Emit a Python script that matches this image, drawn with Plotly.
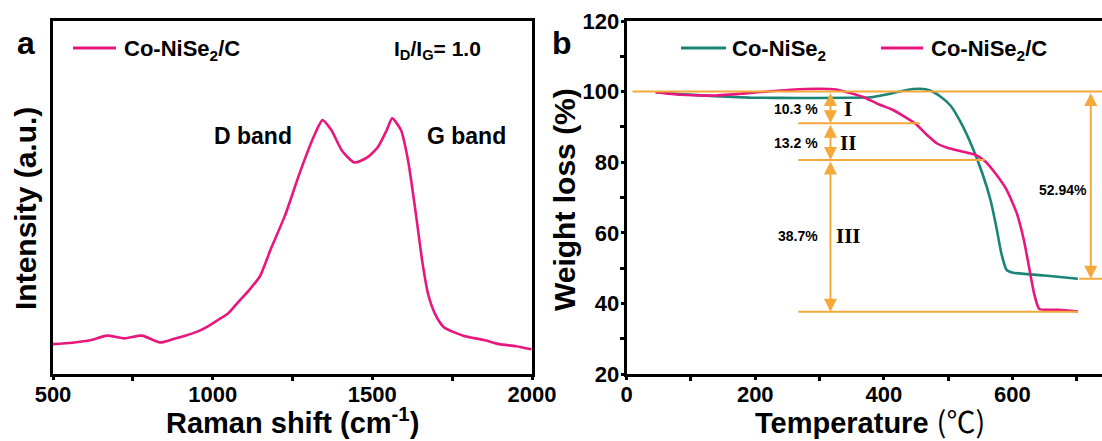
import plotly.graph_objects as go

# ---------------- data ----------------
raman_shift = [500, 560, 620, 668, 724, 779, 835, 880, 914, 950, 981, 1015, 1048, 1080, 1115,
               1148, 1182, 1227, 1271, 1316, 1344, 1372, 1405, 1444, 1484, 1517, 1545, 1562,
               1590, 1612, 1634, 1657, 1674, 1696, 1724, 1785, 1850, 1897, 1950, 1998]
raman_int = [88, 92, 100, 113, 105, 113, 93, 104, 113, 124, 138, 158, 178, 212, 248,
             288, 368, 468, 588, 698, 748, 718, 658, 623, 638, 668, 718, 753,
             718, 628, 488, 328, 238, 178, 138, 113, 100, 88, 82, 73]

temp_a = [45, 83, 137, 191, 272, 380, 396, 412, 434, 456, 472, 488, 504, 520, 537, 553,
          566, 575, 583, 591, 601, 650, 702]
wt_a = [99.8, 99.3, 98.7, 98.3, 98.2, 98.4, 98.9, 99.5, 100.4, 100.8, 100.3, 98.6, 96.0,
        91.2, 84.6, 77.0, 69.3, 61.7, 54.1, 49.5, 48.7, 47.9, 47.0]

temp_b = [45, 83, 137, 191, 245, 299, 326, 348, 369, 391, 412, 434, 450, 466, 483, 499,
          520, 542, 558, 575, 591, 607, 618, 626, 634, 642, 672, 702]
wt_b = [99.8, 99.1, 98.9, 99.6, 100.4, 100.8, 100.6, 99.6, 98.4, 96.5, 95.0, 92.7, 90.8,
        87.9, 85.3, 84.1, 83.1, 82.1, 80.2, 76.5, 72.2, 65.5, 57.9, 50.3, 42.7, 38.4, 38.2, 37.7]

# step levels (weight %) and their temperature extents
level_y = [100.0, 91.0, 80.6, 37.6, 47.0]
level_x0 = [9, 267, 267, 267, 704]
level_x1 = [760, 456, 557, 702, 760]
arrow_x = 317
arrow_x_total = 722
step_labels = ["10.3 %", "13.2 %", "38.7%"]
step_label_y = [95.2, 85.5, 59.0]
step_roman = ["I", "II", "III"]
total_label = "52.94%"
total_label_y = 72.2

PINK = "#E8177D"
GREEN = "#1A8576"
ORANGE = "#F5A93A"
FONT = "Arial"

# figure geometry (pixels)
W, H = 1102, 441
ML, MR, MT, MB = 53, 0, 21, 67
PW, PH = W - ML - MR, H - MT - MB


def px_x(px):
    return (px - ML) / PW


def px_y(py):
    return 1 - (py - MT) / PH


fig = go.Figure()

fig.add_trace(go.Scatter(x=raman_shift, y=raman_int, mode="lines",
                         line=dict(color=PINK, width=2.6, shape="spline", smoothing=0.6),
                         name="Co-NiSe2/C", xaxis="x", yaxis="y", showlegend=False))
fig.add_trace(go.Scatter(x=temp_a, y=wt_a, mode="lines",
                         line=dict(color=GREEN, width=2.6, shape="spline", smoothing=0.5),
                         name="Co-NiSe2", xaxis="x2", yaxis="y2", showlegend=False))
fig.add_trace(go.Scatter(x=temp_b, y=wt_b, mode="lines",
                         line=dict(color=PINK, width=2.6, shape="spline", smoothing=0.5),
                         name="Co-NiSe2/C", xaxis="x2", yaxis="y2", showlegend=False))

shapes = []
for yv, x0, x1 in zip(level_y, level_x0, level_x1):
    shapes.append(dict(type="line", xref="x2", yref="y2", x0=x0, x1=x1, y0=yv, y1=yv,
                       line=dict(color=ORANGE, width=2)))

# legend samples
legend_items = [
    (73, 116, 122, PINK, "Co-NiSe<sub>2</sub>/C"),
    (681, 726, 730, GREEN, "Co-NiSe<sub>2</sub>"),
    (881, 923, 929, PINK, "Co-NiSe<sub>2</sub>/C"),
]
LEG_Y = 48
annotations = []
for x0, x1, xt, col, txt in legend_items:
    shapes.append(dict(type="line", xref="paper", yref="paper", x0=px_x(x0), x1=px_x(x1),
                       y0=px_y(LEG_Y), y1=px_y(LEG_Y), line=dict(color=col, width=3)))
    annotations.append(dict(xref="paper", yref="paper", x=px_x(xt), y=px_y(LEG_Y + 2),
                            xanchor="left", yanchor="middle", text="<b>%s</b>" % txt,
                            showarrow=False, font=dict(family=FONT, size=22, color="black")))

seg = [(level_y[0], level_y[1]), (level_y[1], level_y[2]), (level_y[2], level_y[3])]
for (ya, yb) in seg:
    annotations.append(dict(xref="x2", yref="y2", axref="x2", ayref="y2", x=arrow_x, y=yb,
                            ax=arrow_x, ay=ya, text="", showarrow=True, arrowhead=2,
                            arrowside="end+start", arrowsize=1.3, arrowwidth=2,
                            arrowcolor=ORANGE, standoff=0, startstandoff=0))
annotations.append(dict(xref="x2", yref="y2", axref="x2", ayref="y2", x=arrow_x_total,
                        y=level_y[4], ax=arrow_x_total, ay=level_y[0], text="", showarrow=True,
                        arrowhead=2, arrowside="end+start", arrowsize=1.3, arrowwidth=2,
                        arrowcolor=ORANGE, standoff=0, startstandoff=0))
for lab, rom, ly in zip(step_labels, step_roman, step_label_y):
    annotations.append(dict(xref="x2", yref="y2", x=301, y=ly, text="<b>%s</b>" % lab,
                            showarrow=False, xanchor="right", yanchor="middle",
                            font=dict(family=FONT, size=14, color="black")))
    annotations.append(dict(xref="x2", yref="y2", x=345, y=ly, text="<b>%s</b>" % rom,
                            showarrow=False, xanchor="center", yanchor="middle",
                            font=dict(family="Liberation Serif", size=21, color="black")))
annotations.append(dict(xref="x2", yref="y2", x=679, y=total_label_y, text="<b>%s</b>" % total_label,
                        showarrow=False, xanchor="center", yanchor="middle",
                        font=dict(family=FONT, size=14, color="black")))

C = dict(showarrow=False, xanchor="center", yanchor="middle")
annotations += [
    dict(xref="x", yref="y", x=1126, y=701, text="<b>D band</b>",
         font=dict(family=FONT, size=23, color="black"), **C),
    dict(xref="x", yref="y", x=1796, y=701, text="<b>G band</b>",
         font=dict(family=FONT, size=23, color="black"), **C),
    dict(xref="paper", yref="paper", x=px_x(437), y=px_y(50),
         text="<b>I<sub>D</sub>/I<sub>G</sub>= 1.0</b>",
         font=dict(family=FONT, size=21, color="black"), **C),
    dict(xref="paper", yref="paper", x=px_x(26), y=px_y(43), text="<b>a</b>",
         font=dict(family=FONT, size=32, color="black"), **C),
    dict(xref="paper", yref="paper", x=px_x(562), y=px_y(43), text="<b>b</b>",
         font=dict(family=FONT, size=32, color="black"), **C),
    # axis titles
    dict(xref="paper", yref="paper", x=px_x(292), y=px_y(421),
         text="<b>Raman shift (cm<sup>-1</sup>)</b>",
         font=dict(family=FONT, size=29, color="black"), **C),
    dict(xref="paper", yref="paper", x=px_x(870), y=px_y(420),
         text="<b>Temperature </b><span style=\"font-family:'Noto Sans CJK SC';font-weight:normal\">(℃)</span>",
         font=dict(family=FONT, size=29, color="black"), **C),
    dict(xref="paper", yref="paper", x=px_x(25), y=px_y(209), textangle=-90,
         text="<b>Intensity (a.u.)</b>",
         font=dict(family=FONT, size=30, color="black"), **C),
    dict(xref="paper", yref="paper", x=px_x(565), y=px_y(200), textangle=-90,
         text="<b>Weight loss (%)</b>",
         font=dict(family=FONT, size=30, color="black"), **C),
]

axis_common = dict(showline=True, linewidth=3, linecolor="black", showgrid=False,
                   zeroline=False, tickfont=dict(family=FONT, size=22, color="black"),
                   automargin=False)
tick_common = dict(ticks="outside", ticklen=3, tickwidth=3, tickcolor="black")
minor_common = dict(ticks="outside", ticklen=4, tickwidth=3, tickcolor="black")

fig.update_layout(
    width=W, height=H,
    margin=dict(l=ML, r=MR, t=MT, b=MB, autoexpand=False),
    paper_bgcolor="white", plot_bgcolor="white",
    showlegend=False,
    xaxis=dict(domain=[0, px_x(532)], range=[500, 2000], mirror=True,
               tickvals=[500, 1000, 1500, 2000],
               ticktext=["<b>500</b>", "<b>1000</b>", "<b>1500</b>", "<b>2000</b>"],
               minor=dict(tickvals=[750, 1250, 1750], **minor_common),
               ticklabelstandoff=-4,
               **tick_common, **axis_common),
    yaxis=dict(domain=[0, 1], range=[0, 1040], mirror=True, showticklabels=False, ticks="",
               **axis_common),
    xaxis2=dict(domain=[px_x(626.7), 1], range=[0, 739.5], anchor="y2", mirror=True,
                tickvals=[0, 200, 400, 600],
                ticktext=["<b>0</b>", "<b>200</b>", "<b>400</b>", "<b>600</b>"],
                minor=dict(tickvals=[100, 300, 500, 700], **minor_common),
                ticklabelstandoff=-4,
                **tick_common, **axis_common),
    yaxis2=dict(domain=[0, 1], range=[20, 120], anchor="x2", mirror=False,
                tickvals=[20, 40, 60, 80, 100, 120],
                ticktext=["<b>20</b>", "<b>40</b>", "<b>60</b>", "<b>80</b>", "<b>100</b>", "<b>120</b>"],
                minor=dict(tickvals=[30, 50, 70, 90, 110], **minor_common),
                ticklabelstandoff=-3,
                **tick_common, **axis_common),
    shapes=shapes,
    annotations=annotations,
)

fig.write_html("out.html", config={"displayModeBar": False},
               post_script="document.body.style.margin='0px';document.body.style.overflow='hidden';")
